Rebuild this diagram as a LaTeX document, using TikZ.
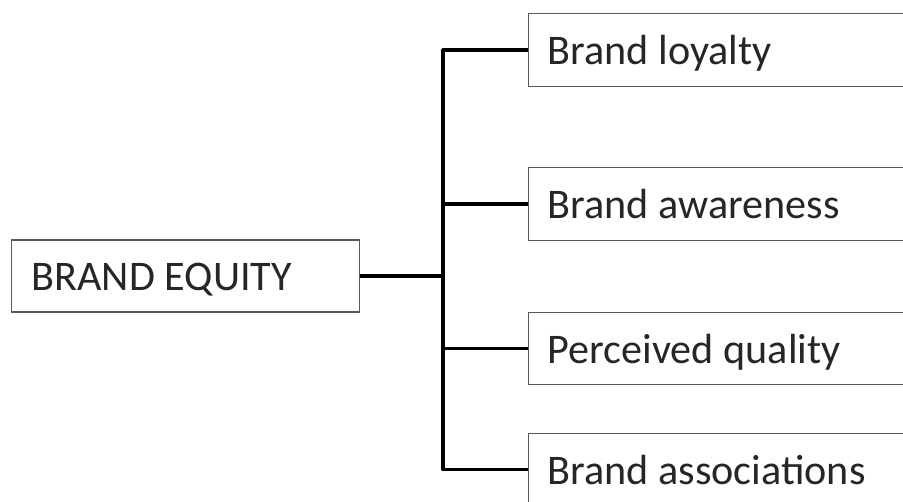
\documentclass[tikz,border=0pt]{standalone}
\usepackage{fontspec}
\setmainfont{Carlito}
\newcommand{\itemtext}[2][7.24cm]{\makebox[#1][l]{#2}}
\tikzset{
  item/.style={draw=black!65, line width=0.8pt, fill=white, anchor=west,
    minimum height=1.45cm, inner xsep=0.38cm,
    text height=17pt, text depth=0pt,
    font=\fontsize{24}{28}\selectfont, text=black!85},
  conn/.style={line width=1.8pt, black, line join=round}
}
\begin{document}
\begin{tikzpicture}
            \useasboundingbox (0,0) rectangle (18.06,10.04);

            % Draw the main box
            \node[item, inner xsep=0.4cm, minimum height=1.44cm] (equity) at (0.22,4.52) {\itemtext[6.16cm]{BRAND EQUITY}};

            % Draw the four dimensions
            \node[item] (loyalty)   at (10.56,9.04) {\itemtext{Brand loyalty}};
            \node[item] (awareness) at (10.56,5.96) {\itemtext{Brand awareness}};
            \node[item] (quality)   at (10.56,3.07) {\itemtext{Perceived quality}};
            \node[item] (assoc)     at (10.56,0.65) {\itemtext{Brand associations}};

            % Draw the connectors
            \coordinate (fork) at (8.86,0);
            \draw[conn] (equity.east) -- (equity.east -| fork);
            \draw[conn] (loyalty.west) -- (loyalty.west -| fork) -- (assoc.west -| fork) -- (assoc.west);
            \draw[conn] (awareness.west -| fork) -- (awareness.west);
            \draw[conn] (quality.west -| fork) -- (quality.west);

        \end{tikzpicture}
\end{document}
